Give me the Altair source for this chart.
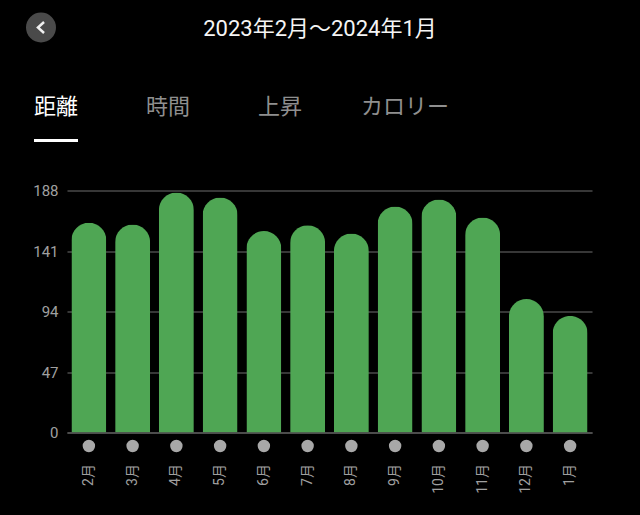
import altair as alt
import pandas as pd

months = ["2月","3月","4月","5月","6月","7月","8月","9月","10月","11月","12月","1月"]
values = [163, 161.5, 186.5, 182.5, 156.5, 161, 154.5, 175.5, 181, 167, 103.7, 90.6]
y_ticks = [0, 47, 94, 141, 188]
title_text = "2023年2月～2024年1月"
tabs = ["距離", "時間", "上昇", "カロリー"]
tab_colors = ["#ffffff", "#8f8f8f", "#8f8f8f", "#8f8f8f"]
tab_x = [-11, 101, 213, 338]

FONT = "Roboto, 'Noto Sans CJK JP', sans-serif"
df = pd.DataFrame({"month": months, "value": values})

x = alt.X("month:N", sort=months, scale=alt.Scale(paddingInner=0.2, paddingOuter=0.1, align=0.5),
          axis=alt.Axis(title=None, labelAngle=270, labelAlign="right", labelBaseline="middle",
                        labelColor="#a0a0a0", labelFont=FONT, labelFontSize=14,
                        labelPadding=31, ticks=False, domain=True, domainColor="#555555",
                        domainWidth=1.5, grid=False))
y = alt.Y("value:Q", scale=alt.Scale(domain=[0, 188], nice=False),
          axis=alt.Axis(title=None, values=y_ticks, labelColor="#a0a0a0", labelFont=FONT,
                        labelFontSize=15, labelPadding=9, ticks=False, domain=False,
                        grid=True, gridColor="#4a4a4a", gridWidth=1.5))

bars = alt.Chart(df).mark_bar(color="#4fa654", size=35, cornerRadiusTopLeft=17.5,
                              cornerRadiusTopRight=17.5).encode(x=x, y=y)
dots = alt.Chart(df).mark_point(filled=True, color="#a8a8a8", opacity=1, size=154).encode(
    x=alt.X("month:N", sort=months), y=alt.value(255.5))

title = alt.Chart(pd.DataFrame({"t": [title_text]})).mark_text(
    font=FONT, fontSize=22, color="#f5f5f5", align="center", baseline="middle", clip=False
).encode(text="t:N", x=alt.value(253), y=alt.value(-162))

tab_df = pd.DataFrame({"t": tabs, "c": tab_colors, "px": tab_x})
tab_layers = [
    alt.Chart(tab_df.iloc[[i]]).mark_text(font=FONT, fontSize=22, align="center", baseline="middle",
                                          color=tab_colors[i]).encode(
        text="t:N", x=alt.value(tab_x[i]), y=alt.value(-84))
    for i in range(len(tabs))
]
underline = alt.Chart(pd.DataFrame({"a": [0]})).mark_rule(color="#ffffff", strokeWidth=3).encode(
    x=alt.value(-33), x2=alt.value(11), y=alt.value(-50))
back = alt.Chart(pd.DataFrame({"a": [0]})).mark_point(filled=True, color="#4a4a4a", opacity=1, size=900).encode(
    x=alt.value(-26), y=alt.value(-163))
chev = alt.Chart(pd.DataFrame({"a": [0]})).mark_point(
    shape="M0.55,-1L-0.55,0L0.55,1", filled=False, color="#f0f0f0", opacity=1, size=121, strokeWidth=2.5
).encode(x=alt.value(-26), y=alt.value(-163))

chart = alt.layer(bars, dots, title, *tab_layers, underline, back, chev).resolve_scale(
    x="shared"
).properties(
    width=525, height=242,
    background="#000000",
    padding={"left": 59, "top": 182.5, "right": 40, "bottom": 74.5},
    autosize=alt.AutoSizeParams(type="none"),
).configure_view(stroke=None)

chart.save("out.html", embed_options={"renderer": "svg", "actions": False,
                                      "defaultStyle": "html,body{background:#000000}"})
